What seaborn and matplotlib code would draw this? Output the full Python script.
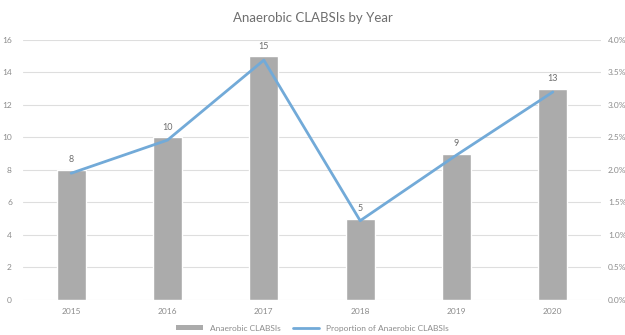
import matplotlib
matplotlib.use("Agg")
import matplotlib.pyplot as plt
import seaborn as sns
import numpy as np
import pandas as pd
from matplotlib.patches import Patch
from matplotlib.lines import Line2D

years = ["2015", "2016", "2017", "2018", "2019", "2020"]
counts = [8, 10, 15, 5, 9, 13]
proportion = [1.95, 2.46, 3.69, 1.22, 2.23, 3.20]  # percent
left_ticks = [0, 2, 4, 6, 8, 10, 12, 14, 16]
right_ticks = [0.0, 0.5, 1.0, 1.5, 2.0, 2.5, 3.0, 3.5, 4.0]

sns.set_theme(style="white")
plt.rcParams['font.family'] = ['Lato', 'DejaVu Sans']

df = pd.DataFrame({"year": years, "count": counts, "prop": proportion})

fig = plt.figure(figsize=(6.25, 3.35), dpi=100)
ax = fig.add_axes([0.0368, 0.1045, 0.9248, 0.7761])

text_color = "#8c8c8c"
grid_color = "#dedede"
bar_color = "#ababab"
line_color = "#72aad8"

sns.barplot(data=df, x="year", y="count", color=bar_color, width=0.3,
            saturation=1, ax=ax, zorder=2)
ax.set_ylim(0, 16)
ax.set_yticks(left_ticks)
ax.set_xlim(-0.5, len(years) - 0.5)
for y in left_ticks:
    ax.axhline(y, color=grid_color, lw=0.8, zorder=0)
for i, c in enumerate(counts):
    ax.text(i, c + 0.35, str(c), ha="center", va="bottom", fontsize=6.5, color="#6e6e6e")

ax2 = ax.twinx()
sns.lineplot(x=np.arange(len(years)), y=df["prop"], color=line_color, lw=2, ax=ax2, zorder=3)
ax2.set_ylim(0, 4.0)
ax2.set_yticks(right_ticks)
ax2.set_yticklabels([f"{v:.1f}%" for v in right_ticks])
ax2.set_xlim(-0.5, len(years) - 0.5)

for a in (ax, ax2):
    for s in a.spines.values():
        s.set_visible(False)
    a.tick_params(length=0, labelsize=6, colors=text_color, pad=3)
    a.set_xlabel("")
    a.set_ylabel("")
ax.tick_params(axis="y", pad=8)
ax2.tick_params(axis="y", pad=5)
ax.tick_params(axis="x", pad=6)

fig.text(0.5, 0.945, "Anaerobic CLABSIs by Year", ha="center", va="center",
         fontsize=9.5, color="#6e6e6e")

handles = [Patch(facecolor=bar_color, edgecolor="none"),
           Line2D([0], [0], color=line_color, lw=2)]
fig.legend(handles, ["Anaerobic CLABSIs", "Proportion of Anaerobic CLABSIs"],
           loc="center", bbox_to_anchor=(0.5, 0.02), ncol=2, frameon=False,
           fontsize=6, labelcolor=text_color, handlelength=3.2, handleheight=0.5,
           columnspacing=1.5)

fig.savefig("out.png", dpi=100)
